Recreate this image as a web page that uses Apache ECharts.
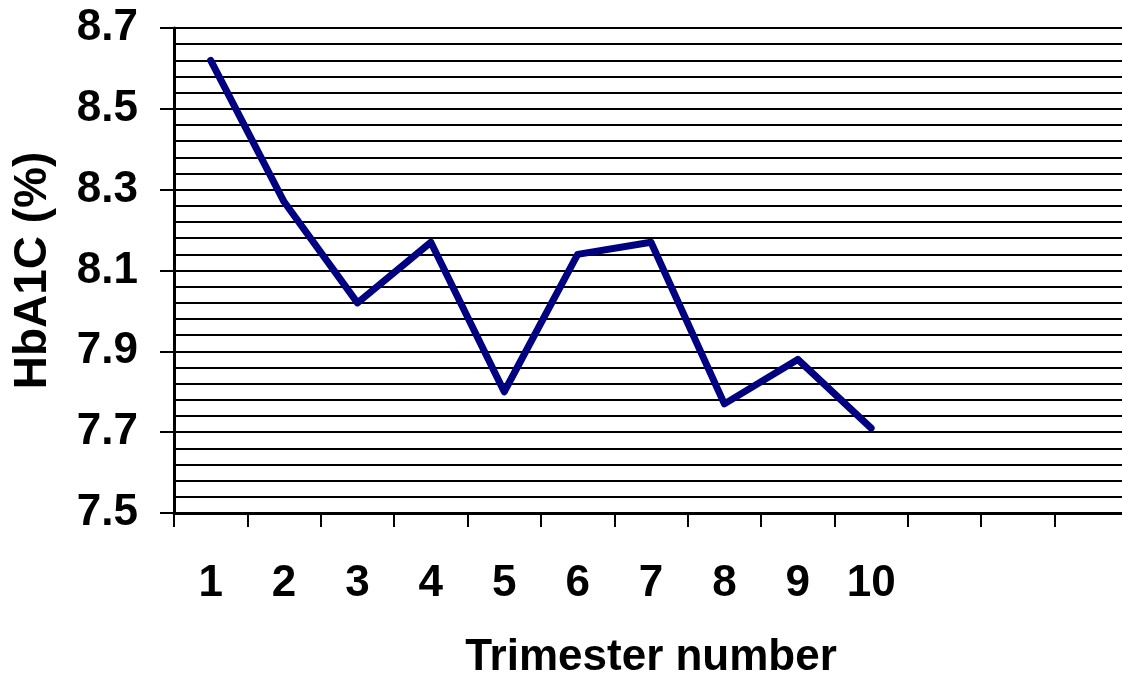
<!DOCTYPE html>
<html>
<head>
<meta charset="utf-8">
<script src="https://cdn.jsdelivr.net/npm/echarts@6/dist/echarts.min.js"></script>
<style>html,body{margin:0;padding:0;background:#fff;overflow:hidden;width:1122px;height:673px}#c{width:1128px;height:673px}</style>
</head>
<body>
<div id="c"></div>
<script>
var categories = ['1','2','3','4','5','6','7','8','9','10','','',''];
var hba1c = [8.62, 8.27, 8.02, 8.17, 7.80, 8.14, 8.17, 7.77, 7.88, 7.71];
var yMin = 7.5, yMax = 8.7, yStep = 0.2;
var xTitle = 'Trimester number';
var yTitle = 'HbA1C (%)';

var font = '"Liberation Sans", Arial, sans-serif';
var chart = echarts.init(document.getElementById('c'), null, {renderer: 'canvas'});
chart.setOption({
  animation: false,
  backgroundColor: '#fff',
  grid: {left: 174, top: 28, bottom: 160, right: 0, containLabel: false, outerBoundsMode: 'none'},
  xAxis: {
    type: 'category',
    data: categories,
    boundaryGap: true,
    name: xTitle,
    nameLocation: 'middle',
    nameGap: 123,
    nameTextStyle: {fontSize: 44, fontWeight: 'bold', color: '#000', fontFamily: font},
    axisLine: {show: true, lineStyle: {color: '#000', width: 3}},
    axisTick: {show: true, interval: 0, length: 14, lineStyle: {color: '#000', width: 2}},
    axisLabel: {interval: 0, margin: 49, fontSize: 44, fontWeight: 'bold', color: '#000', fontFamily: font},
    splitLine: {show: false}
  },
  yAxis: {
    type: 'value',
    min: yMin, max: yMax, interval: yStep,
    name: yTitle,
    nameLocation: 'middle',
    nameGap: 118,
    nameRotate: 90,
    nameTextStyle: {fontSize: 46, fontWeight: 'bold', color: '#000', fontFamily: font},
    axisLine: {show: true, lineStyle: {color: '#000', width: 3}},
    axisTick: {show: true, inside: false, length: 14, lineStyle: {color: '#000', width: 2}},
    axisLabel: {margin: 36, fontSize: 44, fontWeight: 'bold', color: '#000', fontFamily: font,
      formatter: function (v) { return v.toFixed(1); }},
    splitLine: {show: true, lineStyle: {color: '#000', width: 2}},
    minorTick: {show: false, splitNumber: 5},
    minorSplitLine: {show: true, lineStyle: {color: '#000', width: 2}}
  },
  series: [{
    type: 'line',
    data: hba1c,
    symbol: 'none',
    lineStyle: {color: '#000080', width: 7, cap: 'round', join: 'round'},
    z: 5
  }]
});
</script>
</body>
</html>
